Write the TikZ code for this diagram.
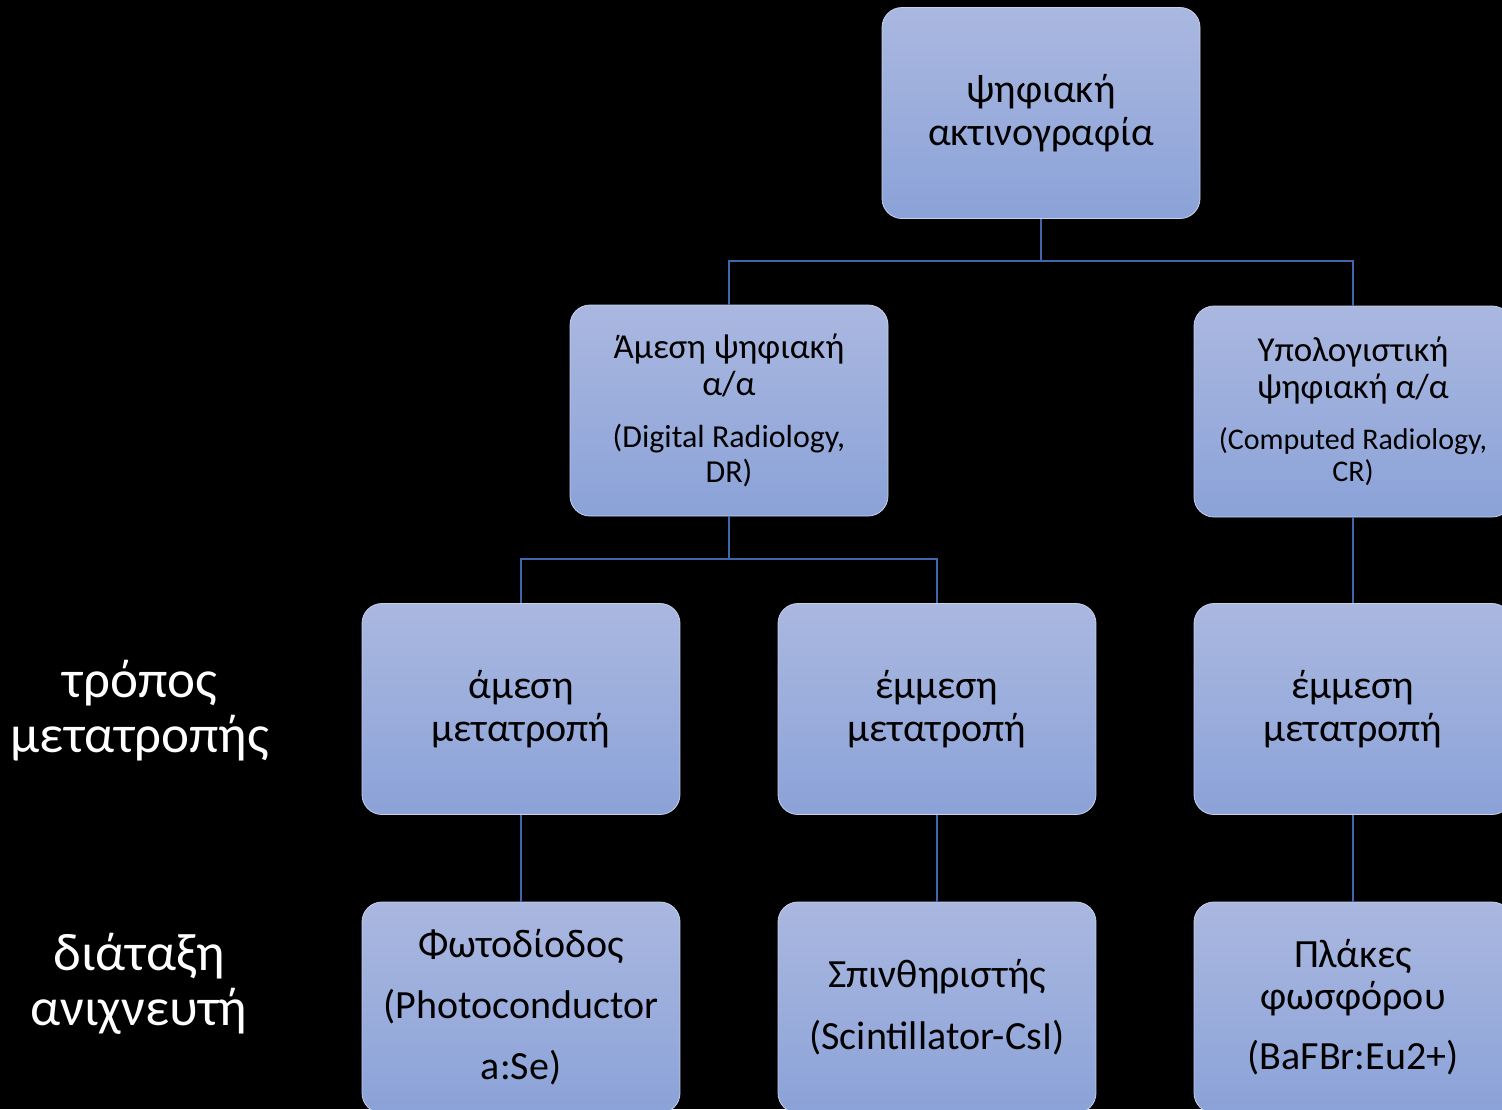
\documentclass[tikz,border=0pt]{standalone}
\usepackage{fontspec}
\setmainfont{Carlito}
\definecolor{boxtop}{HTML}{AAB8E0}
\definecolor{boxbot}{HTML}{8BA2D8}
\definecolor{boxedge}{HTML}{C8D0EC}
\definecolor{linkcol}{HTML}{4066AC}
\begin{document}
\begin{tikzpicture}[x=1pt,y=-1pt,
  box/.style={rectangle, rounded corners=20pt, top color=boxtop, bottom color=boxbot,
    draw=boxedge, line width=0.8pt, minimum width=318pt, minimum height=211pt,
    align=center, text=black, inner sep=0pt},
  big/.style={font=\fontsize{40}{43}\selectfont},
  mid/.style={font=\fontsize{35}{37}\selectfont},
  conn/.style={draw=linkcol, line width=2.8pt},
  side/.style={text=white, align=center, font=\fontsize{53}{55}\selectfont}]
\useasboundingbox (0,0) rectangle (1502,1109);
\fill[black] (0,0) rectangle (1502,1109);
\begin{scope}
\clip (0,0) rectangle (1502,1109);
% nodes
\node[box, big] (top) at (1041,113) {ψηφιακή\\ακτινογραφία};
\node[box, mid] (dr) at (729,410.5) {Άμεση ψηφιακή\\α/α\\[15pt]
  {\fontsize{32}{35}\selectfont (Digital Radiology,}\\[-2pt]{\fontsize{32}{35}\selectfont DR)}};
\node[box, mid] (cr) at (1353,411.5) {Υπολογιστική\\ψηφιακή α/α\\[14pt]
  {\fontsize{30}{34}\selectfont (Computed Radiology,}\\[-5pt]{\fontsize{30}{34}\selectfont CR)}};
\node[box, big] (am) at (521,709) {άμεση\\μετατροπή};
\node[box, big] (em1) at (937,709) {έμμεση\\μετατροπή};
\node[box, big] (em2) at (1353,709) {έμμεση\\μετατροπή};
\node[box, font=\fontsize{40}{61}\selectfont] (fd) at (521,1007.5) {Φωτοδίοδος\\(Photoconductor\\a:Se)};
\node[box, font=\fontsize{40}{62}\selectfont] (sc) at (937,1007.5) {Σπινθηριστής\\(Scintillator-CsI)};
\node[box, font=\fontsize{40}{42}\selectfont] (pl) at (1353,1007.5) {Πλάκες\\φωσφόρου\\[18pt](BaFBr:Eu2+)};
% side labels
\node[side] (l1) at (140,711) {τρόπος\\μετατροπής};
\node[side] (l2) at (139,984) {διάταξη\\ανιχνευτή};
% connectors
\coordinate (j1) at (1041,261);
\coordinate (j2) at (729,559);
\draw[conn] (top.south) -- (j1) -| (dr.north);
\draw[conn] (j1) -| (cr.north);
\draw[conn] (dr.south) -- (j2) -| (am.north);
\draw[conn] (j2) -| (em1.north);
\draw[conn] (cr.south) -- (em2.north);
\draw[conn] (am.south) -- (fd.north);
\draw[conn] (em1.south) -- (sc.north);
\draw[conn] (em2.south) -- (pl.north);
\end{scope}
\end{tikzpicture}
\end{document}
